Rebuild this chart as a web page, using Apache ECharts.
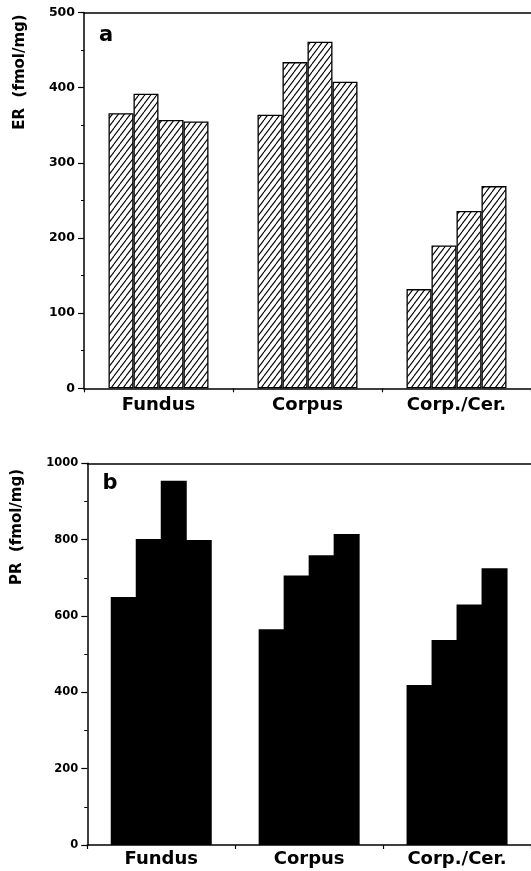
<!DOCTYPE html>
<html>
<head>
<meta charset="utf-8">
<script src="https://cdn.jsdelivr.net/npm/echarts@6/dist/echarts.min.js"></script>
<style>
  html, body { margin: 0; padding: 0; background: #fff; }
  #chart { width: 531px; height: 871px; }
</style>
</head>
<body>
<div id="chart"></div>
<script>
// Regions of the uterus
const categories = ['Fundus', 'Corpus', 'Corp./Cer.'];

// Estrogen receptor (fmol/mg), one array per bar position within each region
const erGroup1 = [366, 364, 132];
const erGroup2 = [392, 434, 190];
const erGroup3 = [357, 461, 236];
const erGroup4 = [355, 408, 269];

// Progesterone receptor (fmol/mg)
const prGroup1 = [650, 565, 419];
const prGroup2 = [802, 706, 537];
const prGroup3 = [954, 759, 630];
const prGroup4 = [799, 815, 725];

// Axis ranges
const erAxis = { min: 0, max: 500, interval: 100 };
const prAxis = { min: 0, max: 1000, interval: 200 };

const FONT = 'DejaVu Sans';

// Diagonal hatch fill for the ER bars
function makeHatch() {
  const w = 6, h = 8;
  const c = document.createElement('canvas');
  c.width = w; c.height = h;
  const ctx = c.getContext('2d');
  ctx.fillStyle = '#fff';
  ctx.fillRect(0, 0, w, h);
  ctx.strokeStyle = '#000';
  ctx.lineWidth = 1.1;
  for (let k = -1; k <= 1; k++) {
    ctx.beginPath();
    ctx.moveTo(k * w, h);
    ctx.lineTo(k * w + w, 0);
    ctx.stroke();
  }
  return c;
}
const hatch = { image: makeHatch(), repeat: 'repeat' };

const chart = echarts.init(document.getElementById('chart'), null, { renderer: 'canvas' });

function xAxisFor(gridIndex, labelMargin) {
  return {
    type: 'category',
    gridIndex: gridIndex,
    data: categories,
    axisLine: { lineStyle: { color: '#000', width: 1.5 } },
    axisTick: { show: true, length: 4, lineStyle: { color: '#000', width: 1.2 } },
    axisLabel: { color: '#000', fontFamily: FONT, fontWeight: 'bold', fontSize: 18, margin: labelMargin },
    splitLine: { show: false }
  };
}

// Plain frame line along the top of each panel
function topAxisFor(gridIndex) {
  return {
    type: 'category',
    gridIndex: gridIndex,
    position: 'top',
    data: categories,
    axisLine: { show: true, lineStyle: { color: '#000', width: 1.5 } },
    axisTick: { show: false },
    axisLabel: { show: false },
    splitLine: { show: false }
  };
}

function yAxisFor(gridIndex, range, fontSize) {
  return {
    type: 'value',
    gridIndex: gridIndex,
    min: range.min,
    max: range.max,
    interval: range.interval,
    axisLine: { show: true, lineStyle: { color: '#000', width: 1.5 } },
    axisTick: { show: true, length: 6, lineStyle: { color: '#000', width: 1.2 } },
    minorTick: { show: true, splitNumber: 2, length: 3, lineStyle: { color: '#000', width: 1 } },
    axisLabel: {
      color: '#000', fontFamily: FONT, fontWeight: 'bold', fontSize: fontSize, margin: 9,
      formatter: (v) => String(v)
    },
    splitLine: { show: false }
  };
}

const erStyle = { color: hatch, borderColor: '#000', borderWidth: 1.3 };
const prStyle = { color: '#000', borderColor: '#000', borderWidth: 0 };

function barSeries(data, axisIndex, style, width, gap) {
  return {
    type: 'bar',
    xAxisIndex: axisIndex,
    yAxisIndex: axisIndex,
    data: data,
    barWidth: width,
    barGap: gap,
    itemStyle: style,
    emphasis: { disabled: true },
    animation: false
  };
}

const option = {
  animation: false,
  backgroundColor: '#fff',
  grid: [
    { left: 84, top: 12.5, width: 449, height: 375.8, show: false, containLabel: false },
    { left: 87.3, top: 463.3, width: 449, height: 381.7, show: false, containLabel: false }
  ],
  xAxis: [xAxisFor(0, 8), xAxisFor(1, 5), topAxisFor(0), topAxisFor(1)],
  yAxis: [yAxisFor(0, erAxis, 12.5), yAxisFor(1, prAxis, 11.5)],
  series: [
    barSeries(erGroup1, 0, erStyle, 25, '0%'),
    barSeries(erGroup2, 0, erStyle, 25, '0%'),
    barSeries(erGroup3, 0, erStyle, 25, '0%'),
    barSeries(erGroup4, 0, erStyle, 25, '0%'),
    // solid bars overlap by a pixel so adjacent bars join without seams
    barSeries(prGroup1, 1, prStyle, 26, '-3.85%'),
    barSeries(prGroup2, 1, prStyle, 26, '-3.85%'),
    barSeries(prGroup3, 1, prStyle, 26, '-3.85%'),
    barSeries(prGroup4, 1, prStyle, 26, '-3.85%')
  ],
  graphic: [
    {
      type: 'text', x: 20, y: 72, rotation: Math.PI / 2,
      style: { text: 'ER  (fmol/mg)', font: 'bold 15px "DejaVu Sans"', fill: '#000', align: 'center', verticalAlign: 'middle' }
    },
    {
      type: 'text', x: 17, y: 527, rotation: Math.PI / 2,
      style: { text: 'PR  (fmol/mg)', font: 'bold 15px "DejaVu Sans"', fill: '#000', align: 'center', verticalAlign: 'middle' }
    },
    {
      type: 'text', x: 106, y: 36,
      style: { text: 'a', font: 'bold 21px "DejaVu Sans"', fill: '#000', align: 'center', verticalAlign: 'middle' }
    },
    {
      type: 'text', x: 110, y: 484,
      style: { text: 'b', font: 'bold 21px "DejaVu Sans"', fill: '#000', align: 'center', verticalAlign: 'middle' }
    }
  ]
};

chart.setOption(option);
</script>
</body>
</html>
